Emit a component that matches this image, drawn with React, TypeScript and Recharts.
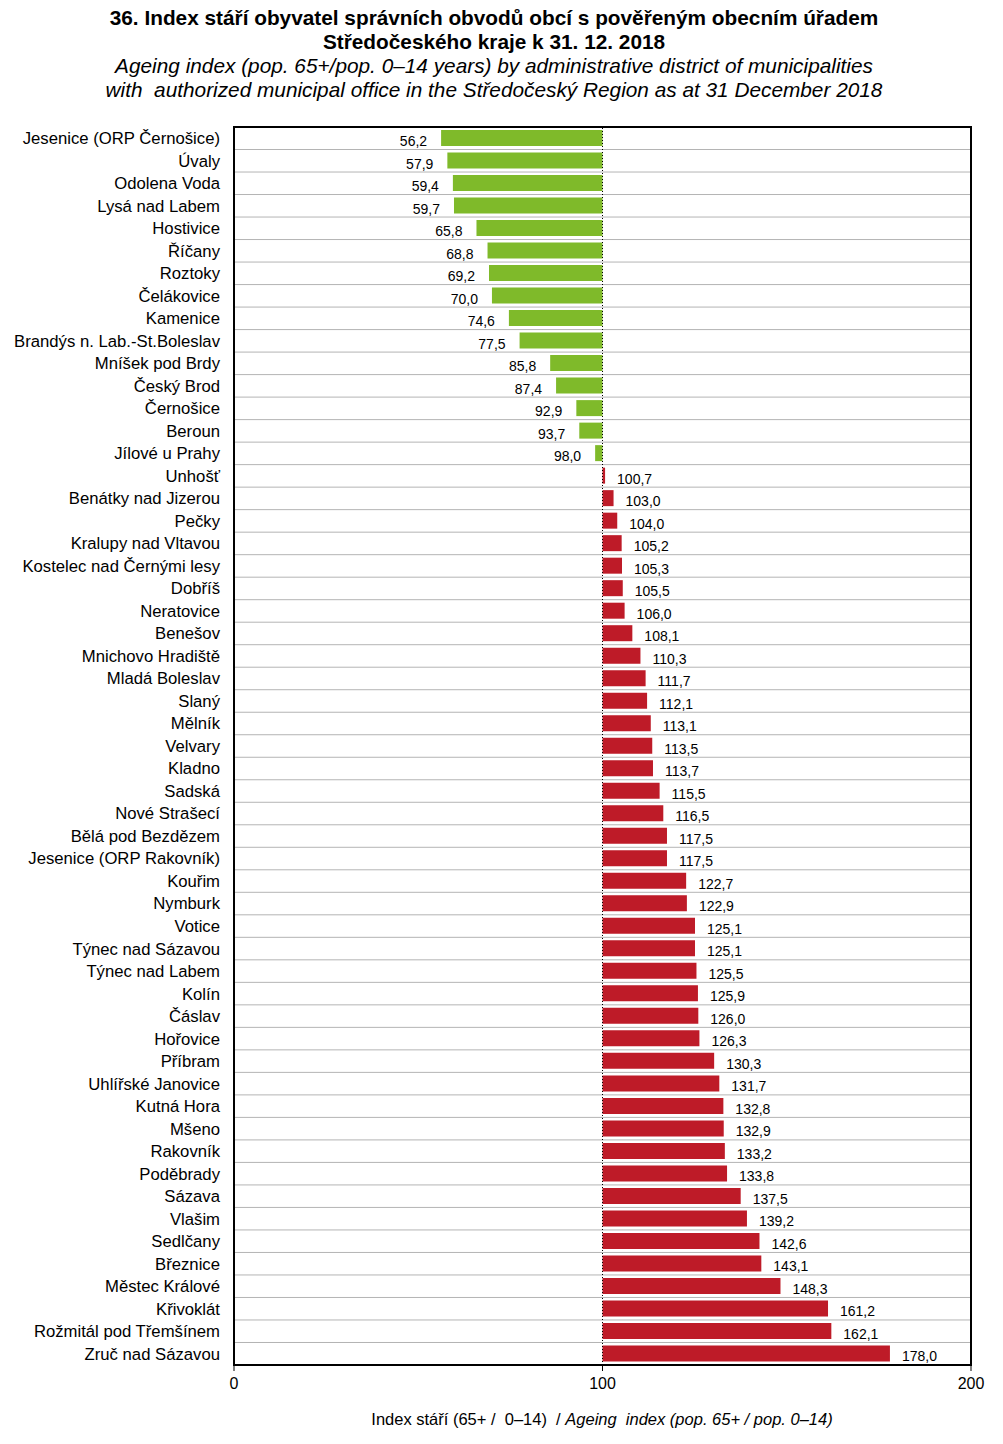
import { BarChart, Bar, XAxis, YAxis, CartesianGrid, Cell, LabelList, ReferenceLine, ReferenceArea } from 'recharts';

const districts = [
  'Jesenice (ORP Černošice)', 'Úvaly', 'Odolena Voda', 'Lysá nad Labem', 'Hostivice', 'Říčany', 'Roztoky',
  'Čelákovice', 'Kamenice', 'Brandýs n. Lab.-St.Boleslav', 'Mníšek pod Brdy', 'Český Brod', 'Černošice',
  'Beroun', 'Jílové u Prahy', 'Unhošť', 'Benátky nad Jizerou', 'Pečky', 'Kralupy nad Vltavou',
  'Kostelec nad Černými lesy', 'Dobříš', 'Neratovice', 'Benešov', 'Mnichovo Hradiště', 'Mladá Boleslav',
  'Slaný', 'Mělník', 'Velvary', 'Kladno', 'Sadská', 'Nové Strašecí', 'Bělá pod Bezdězem',
  'Jesenice (ORP Rakovník)', 'Kouřim', 'Nymburk', 'Votice', 'Týnec nad Sázavou', 'Týnec nad Labem', 'Kolín',
  'Čáslav', 'Hořovice', 'Příbram', 'Uhlířské Janovice', 'Kutná Hora', 'Mšeno', 'Rakovník', 'Poděbrady',
  'Sázava', 'Vlašim', 'Sedlčany', 'Březnice', 'Městec Králové', 'Křivoklát', 'Rožmitál pod Třemšínem',
  'Zruč nad Sázavou',
];

const ageingIndex = [
  56.2, 57.9, 59.4, 59.7, 65.8, 68.8, 69.2, 70.0, 74.6, 77.5, 85.8, 87.4, 92.9, 93.7, 98.0,
  100.7, 103.0, 104.0, 105.2, 105.3, 105.5, 106.0, 108.1, 110.3, 111.7, 112.1, 113.1, 113.5, 113.7,
  115.5, 116.5, 117.5, 117.5, 122.7, 122.9, 125.1, 125.1, 125.5, 125.9, 126.0, 126.3, 130.3, 131.7,
  132.8, 132.9, 133.2, 133.8, 137.5, 139.2, 142.6, 143.1, 148.3, 161.2, 162.1, 178.0,
];

const xTicks = [0, 100, 200];
const BASE = 100;

const GREEN = '#7fba2a';
const RED = '#be1b28';
const FONT = '"Liberation Sans", Arial, sans-serif';

const data = districts.map((name, i) => ({
  name,
  value: ageingIndex[i],
  range: [BASE, ageingIndex[i]],
}));

const fmt = (v: number) => v.toFixed(1).replace('.', ',');

function ValueLabel(props: any) {
  const { x, y, width, height, value } = props;
  const left = Math.min(x, x + width);
  const right = Math.max(x, x + width);
  const below = value < BASE;
  return (
    <text
      x={below ? left - 14 : right + 12}
      y={y + height / 2 + 3}
      textAnchor={below ? 'end' : 'start'}
      dominantBaseline="central"
      fontSize={14}
      fontFamily={FONT}
      fill="#000"
    >
      {fmt(value)}
    </text>
  );
}

export default function App() {
  return (
    <div style={{ position: 'absolute', left: 0, top: 0, width: 1003, height: 1444, background: '#fff', fontFamily: FONT }}>
      <div style={{ position: 'absolute', left: 0, top: 6, width: 988, textAlign: 'center', color: '#000', fontSize: 20.8, lineHeight: '24px' }}>
        <div style={{ fontWeight: 'bold' }}>36. Index stáří obyvatel správních obvodů obcí s pověřeným obecním úřadem</div>
        <div style={{ fontWeight: 'bold' }}>Středočeského kraje k 31. 12. 2018</div>
        <div style={{ fontStyle: 'italic' }}>Ageing index (pop. 65+/pop. 0–14 years) by administrative district of municipalities</div>
        <div style={{ fontStyle: 'italic' }}>with&nbsp; authorized municipal office in the Středočeský Region as at 31 December 2018</div>
      </div>
      <BarChart
        width={1003}
        height={1444}
        data={data}
        layout="vertical"
        margin={{ top: 127, right: 32, bottom: 0, left: 0 }}
        barSize={16}
        style={{ position: 'absolute', left: 0, top: 0 }}
      >
        <CartesianGrid
          vertical={false}
          stroke="#b4b4b4"
          horizontalCoordinatesGenerator={({ offset }: any) =>
            districts.slice(1).map((_, i) => offset.top + ((i + 1) * offset.height) / districts.length)
          }
        />
        <XAxis
          type="number"
          domain={[0, 200]}
          ticks={xTicks}
          height={79}
          tickSize={6}
          tickMargin={7}
          axisLine={{ stroke: '#000', strokeWidth: 2 }}
          tickLine={{ stroke: '#000' }}
          tick={{ fill: '#000', fontSize: 16, fontFamily: FONT }}
        />
        <YAxis
          type="category"
          dataKey="name"
          width={234}
          interval={0}
          tickSize={0}
          tickMargin={14}
          axisLine={false}
          tick={{ fill: '#000', fontSize: 16.7, fontFamily: FONT }}
        />
        <ReferenceLine x={BASE} stroke="#000" strokeDasharray="1 2" />
        <Bar dataKey="range" isAnimationActive={false}>
          {data.map((d, i) => (
            <Cell key={`c-${i}`} fill={d.value < BASE ? GREEN : RED} />
          ))}
          <LabelList dataKey="value" content={ValueLabel} />
        </Bar>
        <ReferenceArea x1={0} x2={200} fill="none" stroke="#000" strokeWidth={2} ifOverflow="visible" />
      </BarChart>
      <div style={{ position: 'absolute', left: 302, top: 1410, width: 600, textAlign: 'center', fontSize: 16.5, color: '#000', whiteSpace: 'pre' }}>
        {'Index stáří (65+ /  0–14)  / '}
        <span style={{ fontStyle: 'italic' }}>{'Ageing  index (pop. 65+ / pop. 0–14)'}</span>
      </div>
    </div>
  );
}
